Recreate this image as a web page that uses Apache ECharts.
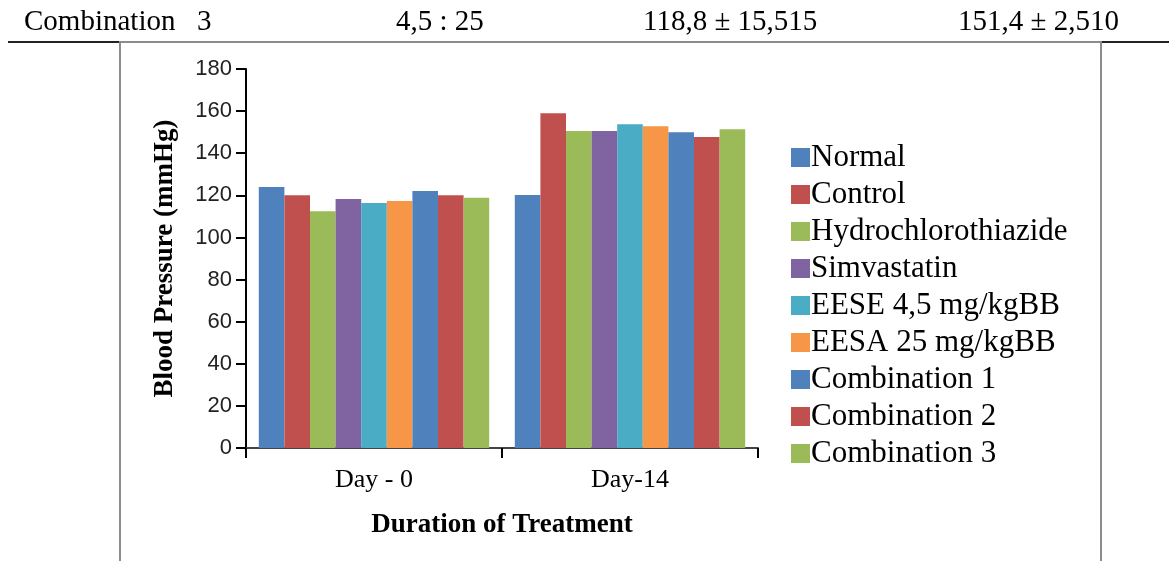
<!DOCTYPE html>
<html>
<head>
<meta charset="utf-8">
<script src="https://cdn.jsdelivr.net/npm/echarts@6/dist/echarts.min.js"></script>
<style>
html,body{margin:0;padding:0;background:#fff;}
#chart{width:1169px;height:561px;}
</style>
</head>
<body>
<div id="chart"></div>
<script>
const categories = ['Day - 0', 'Day-14'];
const seriesNames = ['Normal', 'Control', 'Hydrochlorothiazide', 'Simvastatin', 'EESE 4,5 mg/kgBB', 'EESA 25 mg/kgBB', 'Combination 1', 'Combination 2', 'Combination 3'];
const normal = [124, 120.1];
const control = [120, 159];
const hydrochlorothiazide = [112.5, 150.5];
const simvastatin = [118.2, 150.5];
const eese = [116.3, 153.8];
const eesa = [117.3, 152.8];
const combination1 = [122, 150];
const combination2 = [120, 147.7];
const combination3 = [118.8, 151.4];
const seriesValues = [normal, control, hydrochlorothiazide, simvastatin, eese, eesa, combination1, combination2, combination3];
const colors = ['#4F81BD', '#C0504D', '#9BBB59', '#8064A2', '#4BACC6', '#F79646', '#4F81BD', '#C0504D', '#9BBB59'];
const tableRow = ['Combination', '3', '4,5 : 25', '118,8 \u00b1 15,515', '151,4 \u00b1 2,510'];
const yTicks = {min: 0, max: 180, interval: 20};

const serif = '"Liberation Serif", "Times New Roman", serif';
const chart = echarts.init(document.getElementById('chart'));
const tableX = [24, 197, 396, 643, 958];
const option = {
  animation: false,
  backgroundColor: '#fff',
  grid: {left: 246, top: 69, width: 512, bottom: 113, containLabel: false},
  legend: {
    orient: 'vertical', left: 786, top: 137, itemWidth: 19, itemHeight: 19, itemGap: 6,
    icon: 'rect',
    textStyle: {fontFamily: serif, fontSize: 31, color: '#000', padding: [0,0,0,-4]},
    data: seriesNames
  },
  xAxis: {
    type: 'category', data: categories,
    axisLine: {lineStyle: {color: '#444', width: 2}},
    axisTick: {show: true, length: 10, lineStyle: {color: '#000', width: 2}},
    axisLabel: {fontFamily: serif, fontSize: 26, color: '#000', margin: 19},
    name: 'Duration of Treatment', nameLocation: 'middle', nameGap: 64,
    nameTextStyle: {fontFamily: serif, fontSize: 27, fontWeight: 'bold', color: '#000'}
  },
  yAxis: {
    type: 'value', min: yTicks.min, max: yTicks.max, interval: yTicks.interval,
    axisLine: {show: true, lineStyle: {color: '#000', width: 2}},
    axisTick: {show: true, length: 10, lineStyle: {color: '#000', width: 2}},
    splitLine: {show: false},
    axisLabel: {fontFamily: '"Liberation Sans", Arial, sans-serif', fontSize: 22, color: '#222', margin: 14},
    name: 'Blood Pressure (mmHg)', nameLocation: 'middle', nameGap: 67,
    nameTextStyle: {fontFamily: serif, fontSize: 27, fontWeight: 'bold', color: '#000'}
  },
  series: seriesNames.map((n, i) => ({
    name: n, type: 'bar', data: seriesValues[i],
    itemStyle: {color: colors[i]},
    barGap: '0%', barCategoryGap: '10%'
  })),
  graphic: [
    {type: 'line', shape: {x1: 8, y1: 42, x2: 1169, y2: 42}, style: {stroke: '#222', lineWidth: 2}, z: 10},
    {type: 'polyline', shape: {points: [[120, 600], [120, 42], [1101, 42], [1101, 600]]}, style: {stroke: '#8c8c8c', lineWidth: 2, fill: null}, z: 11}
  ].concat(tableRow.map((t, i) => ({
    type: 'text', left: tableX[i], top: 8,
    style: {text: t, fontFamily: serif, fontSize: 29, fill: '#000'}
  })))
};
chart.setOption(option);
</script>
</body>
</html>
